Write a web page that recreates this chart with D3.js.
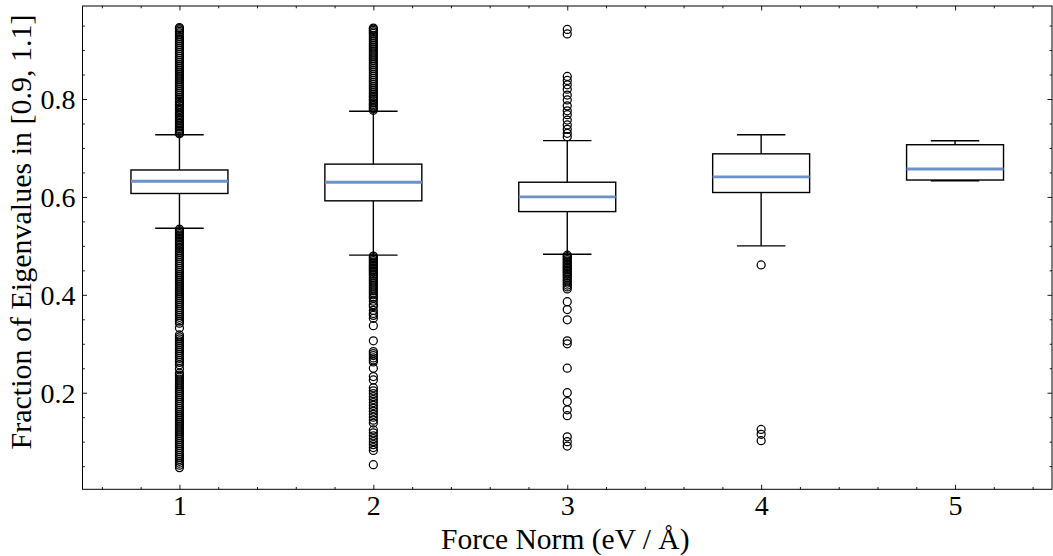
<!DOCTYPE html>
<html>
<head>
<meta charset="utf-8">
<script src="https://cdn.jsdelivr.net/npm/d3@7"></script>
<style>
  html, body { margin: 0; padding: 0; background: #fff; }
  svg { display: block; }
  text { font-family: "Liberation Serif", "DejaVu Serif", serif; fill: #000; }
</style>
</head>
<body>
<svg id="chart" width="1053" height="556"></svg>
<script>
// ---------- data ----------
const categories = [1, 2, 3, 4, 5];
const q1Values      = [0.607, 0.592, 0.570, 0.609, 0.6345];
const medianValues  = [0.632, 0.630, 0.600, 0.641, 0.657];
const q3Values      = [0.655, 0.667, 0.630, 0.688, 0.7066];
const whiskerLow    = [0.536, 0.481, 0.483, 0.500, 0.633];
const whiskerHigh   = [0.727, 0.775, 0.715, 0.727, 0.7148];

const fliers1 = [0.729,0.731,0.734,0.737,0.740,0.743,0.746,0.749,0.752,0.756,0.759,0.762,0.766,0.769,0.772,0.776,0.779,0.782,0.786,0.789,0.793,0.796,0.800,0.803,0.807,0.811,0.815,0.819,0.823,0.827,0.831,0.835,0.839,0.843,0.847,0.851,0.855,0.859,0.863,0.867,0.871,0.875,0.879,0.883,0.887,0.891,0.895,0.899,0.903,0.907,0.911,0.915,0.919,0.923,0.927,0.931,0.935,0.938,0.941,0.944,0.946,
  0.534,0.531,0.528,0.525,0.522,0.519,0.516,0.513,0.510,0.507,0.504,0.501,0.497,0.494,0.490,0.486,0.482,0.478,0.474,0.470,0.466,0.462,0.458,0.454,0.450,0.446,0.442,0.438,0.434,0.430,0.426,0.422,0.418,0.414,0.410,0.406,0.402,0.398,0.394,0.390,0.386,0.382,0.378,0.374,0.370,0.366,0.362,0.358,0.354,0.350,0.346,0.342,0.332,0.318,0.314,0.310,0.306,0.302,0.298,0.294,0.290,0.286,0.282,0.278,0.274,0.270,0.266,0.262,0.257,0.249,0.240,0.236,0.232,0.228,0.224,0.220,0.216,0.212,0.208,0.204,0.200,0.196,0.192,0.188,0.184,0.180,0.176,0.172,0.168,0.164,0.160,0.156,0.152,0.148,0.144,0.140,0.136,0.132,0.128,0.124,0.120,0.116,0.112,0.108,0.104,0.100,0.096,0.092,0.088,0.084,0.080,0.076,0.072,0.068,0.064,0.060,0.056,0.052,0.047];
const fliers2 = [0.777,0.780,0.783,0.786,0.789,0.792,0.796,0.799,0.803,0.806,0.810,0.814,0.818,0.822,0.826,0.830,0.834,0.838,0.842,0.846,0.850,0.854,0.858,0.862,0.866,0.870,0.874,0.878,0.882,0.886,0.890,0.894,0.898,0.902,0.906,0.910,0.914,0.918,0.922,0.926,0.930,0.934,0.937,0.940,0.943,0.945,
  0.479,0.476,0.473,0.470,0.467,0.464,0.461,0.458,0.455,0.452,0.449,0.446,0.443,0.440,0.436,0.432,0.428,0.424,0.420,0.416,0.412,0.408,0.404,0.400,0.396,0.393,0.387,0.380,0.376,0.368,0.362,0.358,0.352,0.337,0.306,0.284,0.280,0.276,0.271,0.267,0.263,0.250,0.233,0.226,0.210,0.204,0.198,0.192,0.186,0.180,0.174,0.168,0.162,0.156,0.150,0.144,0.138,0.124,0.118,0.112,0.106,0.100,0.094,0.088,0.082,0.053];
const fliers3 = [0.942,0.933,0.846,0.838,0.829,0.820,0.808,0.798,0.786,0.776,0.768,0.757,0.747,0.738,0.730,0.723,
  0.481,0.478,0.475,0.472,0.469,0.466,0.463,0.460,0.457,0.454,0.451,0.448,0.445,0.442,0.439,0.436,0.432,0.428,0.424,0.420,0.416,0.412,0.386,0.370,0.349,0.306,0.300,0.250,0.200,0.182,0.165,0.153,0.110,0.100,0.091];
const fliers4 = [0.461, 0.125, 0.115, 0.102];
const fliers5 = [];
const allFliers = [fliers1, fliers2, fliers3, fliers4, fliers5];

const yMajorTicks = [0.2, 0.4, 0.6, 0.8];
const yTickLabels = ["0.2", "0.4", "0.6", "0.8"];
const yMinorTicks = [0.05,0.1,0.15,0.25,0.3,0.35,0.45,0.5,0.55,0.65,0.7,0.75,0.85,0.9,0.95];
const xMajorTicks = [1, 2, 3, 4, 5];
const xMinorTicks = [0.6,0.8,1.2,1.4,1.6,1.8,2.2,2.4,2.6,2.8,3.2,3.4,3.6,3.8,4.2,4.4,4.6,4.8,5.2,5.4];
const xLabel = "Force Norm (eV / Å)";
const yLabel = "Fraction of Eigenvalues in [0.9, 1.1]";

// ---------- layout ----------
const L = 82.5, R = 1052, T = 6, B = 489.3;
const svg = d3.select("#chart");
const x = d3.scaleLinear().domain([0.5, 5.5]).range([L, R]);
const y = d3.scaleLinear().domain([0.0027, 0.99]).range([B, T]);
const boxW = 0.5, capW = 0.25;
const medianColor = "#6d91c9";
const lw = 1.4;

// ---------- boxes ----------
const g = svg.append("g");
categories.forEach((c, i) => {
  g.append("line").attr("x1", x(c)).attr("x2", x(c)).attr("y1", y(q3Values[i])).attr("y2", y(whiskerHigh[i]))
    .attr("stroke", "#000").attr("stroke-width", lw);
  g.append("line").attr("x1", x(c)).attr("x2", x(c)).attr("y1", y(q1Values[i])).attr("y2", y(whiskerLow[i]))
    .attr("stroke", "#000").attr("stroke-width", lw);
  [whiskerHigh[i], whiskerLow[i]].forEach(v => {
    g.append("line").attr("x1", x(c - capW / 2)).attr("x2", x(c + capW / 2)).attr("y1", y(v)).attr("y2", y(v))
      .attr("stroke", "#000").attr("stroke-width", lw);
  });
  g.append("rect").attr("x", x(c - boxW / 2)).attr("width", x(c + boxW / 2) - x(c - boxW / 2))
    .attr("y", y(q3Values[i])).attr("height", y(q1Values[i]) - y(q3Values[i]))
    .attr("fill", "none").attr("stroke", "#000").attr("stroke-width", lw);
  g.append("line").attr("x1", x(c - boxW / 2)).attr("x2", x(c + boxW / 2))
    .attr("y1", y(medianValues[i])).attr("y2", y(medianValues[i]))
    .attr("stroke", medianColor).attr("stroke-width", 2.8);
  g.selectAll(null).data(allFliers[i]).enter().append("circle")
    .attr("cx", x(c)).attr("cy", d => y(d)).attr("r", 4)
    .attr("fill", "none").attr("stroke", "#000").attr("stroke-width", 1.25);
});

// ---------- axes ----------
const majLen = 4.5, minLen = 2.3;
function styleAxis(sel) {
  sel.select(".domain").remove();
  sel.selectAll(".tick line").attr("stroke", "#000").attr("stroke-width", 0.9);
  sel.selectAll("text").style("font-family", '"Liberation Serif", "DejaVu Serif", serif').attr("fill", "#000");
}
svg.append("g").attr("transform", `translate(${L},0)`)
  .call(d3.axisLeft(y).tickValues(yMajorTicks).tickFormat((d, i) => yTickLabels[i]).tickSize(-majLen).tickPadding(7))
  .call(styleAxis).call(s => s.selectAll("text").attr("font-size", 28).attr("dy", "0.34em"));
svg.append("g").attr("transform", `translate(${L},0)`)
  .call(d3.axisLeft(y).tickValues(yMinorTicks).tickFormat("").tickSize(-minLen)).call(styleAxis);
svg.append("g").attr("transform", `translate(${R},0)`)
  .call(d3.axisRight(y).tickValues(yMajorTicks).tickFormat("").tickSize(-majLen)).call(styleAxis);
svg.append("g").attr("transform", `translate(${R},0)`)
  .call(d3.axisRight(y).tickValues(yMinorTicks).tickFormat("").tickSize(-minLen)).call(styleAxis);
svg.append("g").attr("transform", `translate(0,${B})`)
  .call(d3.axisBottom(x).tickValues(xMajorTicks).tickFormat(d3.format("d")).tickSize(-majLen).tickPadding(6))
  .call(styleAxis).call(s => s.selectAll("text").attr("font-size", 28));
svg.append("g").attr("transform", `translate(0,${B})`)
  .call(d3.axisBottom(x).tickValues(xMinorTicks).tickFormat("").tickSize(-minLen)).call(styleAxis);
svg.append("g").attr("transform", `translate(0,${T})`)
  .call(d3.axisTop(x).tickValues(xMajorTicks).tickFormat("").tickSize(-majLen)).call(styleAxis);
svg.append("g").attr("transform", `translate(0,${T})`)
  .call(d3.axisTop(x).tickValues(xMinorTicks).tickFormat("").tickSize(-minLen)).call(styleAxis);

svg.append("rect").attr("x", L).attr("y", T).attr("width", R - L).attr("height", B - T)
  .attr("fill", "none").attr("stroke", "#000").attr("stroke-width", 1);

svg.append("text").attr("x", (L + R) / 2 - 2).attr("y", 549).attr("text-anchor", "middle")
  .attr("font-size", 29.5).text(xLabel);
svg.append("text").attr("transform", "translate(31,232) rotate(-90)").attr("text-anchor", "middle")
  .attr("font-size", 30).text(yLabel);
</script>
</body>
</html>
